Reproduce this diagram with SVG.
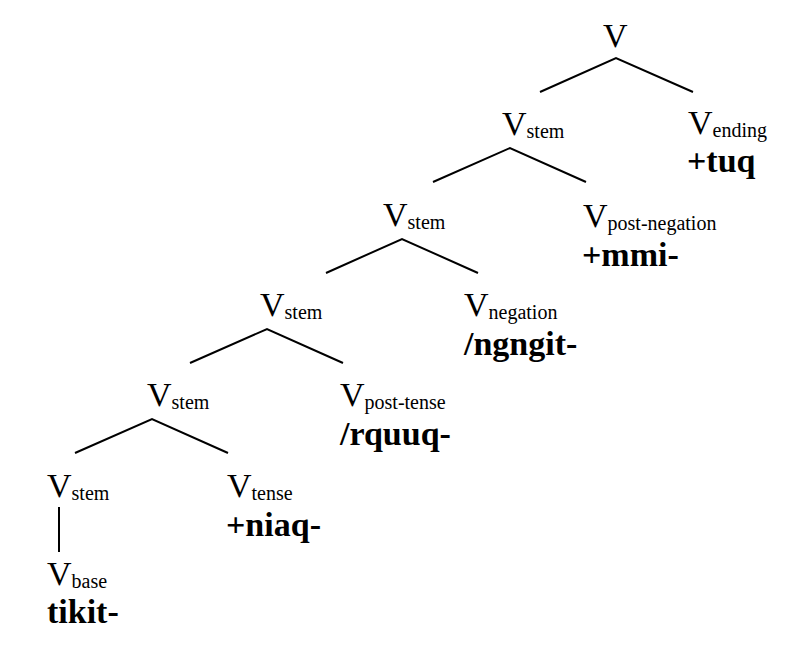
<svg xmlns="http://www.w3.org/2000/svg" width="786" height="658" viewBox="0 0 786 658">
<style>
text{font-family:"Liberation Serif","Times New Roman",serif;fill:#000}
.v{font-size:34px}
.sub{font-size:20px}
.b{font-size:34px;font-weight:bold}
.edge{stroke:#000;stroke-width:2;fill:none}
</style>
<rect width="786" height="658" fill="#fff"/>
<g id="connectors">
<polyline class="edge" points="540,92 616,58 693,92"/>
<polyline class="edge" points="433,182 510,148 586,182"/>
<polyline class="edge" points="326,273 402,239 478,273"/>
<polyline class="edge" points="190,363 267,329 343,363"/>
<polyline class="edge" points="75,453 152,419 228,453"/>
<line class="edge" x1="59" y1="507" x2="59" y2="552"/>
</g>
<g id="n-root"><text class="v" x="603" y="47">V</text></g>
<g id="n-stem1"><text class="v" x="502" y="135">V<tspan class="sub" dy="3">stem</tspan></text></g>
<g id="n-ending"><text class="v" x="688" y="134">V<tspan class="sub" dy="3">ending</tspan></text><text class="b" x="687" y="172">+tuq</text></g>
<g id="n-stem2"><text class="v" x="383" y="226">V<tspan class="sub" dy="3">stem</tspan></text></g>
<g id="n-postneg"><text class="v" x="583" y="227">V<tspan class="sub" dy="3">post-negation</tspan></text><text class="b" x="582" y="266">+mmi-</text></g>
<g id="n-stem3"><text class="v" x="260" y="316">V<tspan class="sub" dy="3">stem</tspan></text></g>
<g id="n-neg"><text class="v" x="464" y="316">V<tspan class="sub" dy="3">negation</tspan></text><text class="b" x="464" y="355">/ngngit-</text></g>
<g id="n-stem4"><text class="v" x="147" y="406">V<tspan class="sub" dy="3">stem</tspan></text></g>
<g id="n-posttense"><text class="v" x="340" y="406">V<tspan class="sub" dy="3">post-tense</tspan></text><text class="b" x="340" y="445">/rquuq-</text></g>
<g id="n-stem5"><text class="v" x="47" y="497">V<tspan class="sub" dy="3">stem</tspan></text></g>
<g id="n-tense"><text class="v" x="227" y="497">V<tspan class="sub" dy="3">tense</tspan></text><text class="b" x="226" y="536">+niaq-</text></g>
<g id="n-base"><text class="v" x="47" y="585">V<tspan class="sub" dy="3">base</tspan></text><text class="b" x="47" y="623">tikit-</text></g>
</svg>
